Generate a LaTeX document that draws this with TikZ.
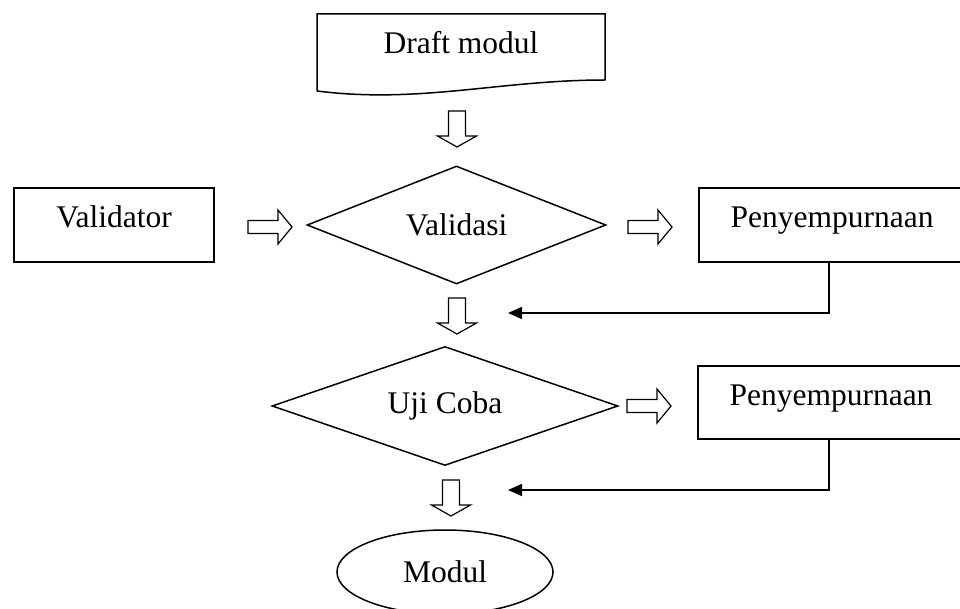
\documentclass[tikz,border=0pt]{standalone}
\usepackage{fontspec}
\setmainfont{Liberation Serif}
\usetikzlibrary{shapes.geometric,arrows.meta}
\begin{document}
\begin{tikzpicture}[x=1pt,y=-1pt,line width=1.5pt,
  lbl/.style={font=\fontsize{31.5}{36}\selectfont},
  boxnode/.style={draw,rectangle,lbl,inner sep=0pt,text height=22pt,text depth=17pt},
  decision/.style={draw,diamond,lbl,inner sep=0pt,shape aspect=2.5},
  terminal/.style={draw,ellipse,lbl,inner sep=0pt,minimum width=216pt,minimum height=84pt},
  link/.style={-{Triangle[length=14pt,width=12pt]}},
  downblk/.pic={\draw[line width=1.2pt,fill=white] (-8.5,0) -- (-8.5,25) -- (-19.5,25) -- (0,36) -- (19.5,25) -- (8.5,25) -- (8.5,0) -- cycle;},
  rightblk/.pic={\draw[line width=1.2pt,fill=white] (0,-6.5) -- (30,-6.5) -- (30,-17) -- (44,0) -- (30,17) -- (30,6.5) -- (0,6.5) -- cycle;}]
\useasboundingbox (0,0) rectangle (960,609);
\clip (0,0) rectangle (960,609);
% Draft modul (document shape)
\draw (317,91) -- (317,14) -- (605,14) -- (605,80)
  .. controls (500,80) and (420,104) .. (317,91);
\node[lbl,anchor=base] (draft) at (461,54) {Draft modul};
% Validator
\node[boxnode,minimum width=200pt,minimum height=74pt] (validator) at (114,225) {Validator};
% Validasi
\node[decision,minimum width=299pt,minimum height=118pt] (validasi) at (456.5,225) {Validasi};
% Penyempurnaan 1
\node[boxnode,minimum width=266pt,minimum height=74pt] (pen1) at (832,225) {Penyempurnaan};
% Uji Coba
\node[decision,minimum width=346pt,minimum height=119pt] (uji) at (445,406) {Uji Coba};
% Penyempurnaan 2
\node[boxnode,minimum width=266pt,minimum height=73pt] (pen2) at (831,402.5) {Penyempurnaan};
% Modul
\node[terminal] (modul) at (445,572) {Modul};
% block arrows
\pic at (457,111) {downblk};
\pic at (248,227) {rightblk};
\pic at (628,227) {rightblk};
\pic at (457,298) {downblk};
\pic at (627,406) {rightblk};
\pic at (451,480) {downblk};
% feedback connectors
\coordinate (c1) at (508,313);
\coordinate (c2) at (508,490);
\draw[link] ([xshift=-3pt]pen1.south) |- (c1);
\draw[link] ([xshift=-2pt]pen2.south) |- (c2);
\end{tikzpicture}
\end{document}
